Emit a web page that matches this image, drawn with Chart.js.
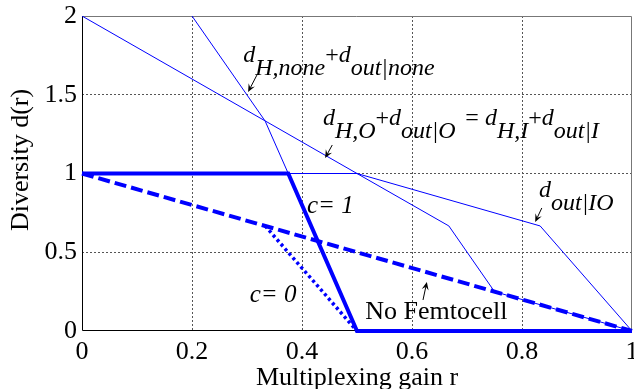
<!DOCTYPE html>
<html>
<head>
<meta charset="utf-8">
<title>Diversity vs multiplexing gain</title>
<script src="https://cdn.jsdelivr.net/npm/chart.js@4.4.1/dist/chart.umd.min.js"></script>
<style>
    html, body { margin: 0; padding: 0; background: #ffffff; }
    #wrap { width: 634px; height: 389px; }
</style>
</head>
<body>
<div id="wrap"><canvas id="dmt" width="634" height="389"></canvas></div>
<script>
// Tick values
const xTicks = [0, 0.2, 0.4, 0.6, 0.8, 1];
const yTicks = [0, 0.5, 1, 1.5, 2];

// thin: d_H,none + d_out|none
const noneR = [0, 0.5, 0.667, 0.75, 1];
const noneD = [2, 1, 0.667, 0.25, 0];

// thin: d_H,O + d_out|O = d_H,I + d_out|I, then d_out|IO
const ioR = [0.2, 0.333, 0.375, 0.5, 0.833, 1];
const ioD = [2, 1.333, 1, 1, 0.667, 0];

// thick solid, c = 1
const c1R = [0, 0.375, 0.5, 1];
const c1D = [1, 1, 0, 0];

// thick dotted, c = 0
const c0R = [0.333, 0.5];
const c0D = [0.667, 0];

// thick dashed, no femtocell
const noFemtoR = [0, 1];
const noFemtoD = [1, 0];

const SERIF = '"Liberation Serif", "Times New Roman", serif';
const BLUE = '#0000ff';

// text labels in data units (r, d) -> left end of the baseline
const notes = [
    { r: 0.293, d: 1.708, size: 24, parts: [{ t: 'd' }, { t: 'H,none', sub: true }, { t: '+', up: true }, { t: 'd' }, { t: 'out|none', sub: true }] },
    { r: 0.438, d: 1.308, size: 24, parts: [{ t: 'd' }, { t: 'H,O', sub: true }, { t: '+', up: true }, { t: 'd' }, { t: 'out|O', sub: true }] },
    { r: 0.697, d: 1.308, size: 24, parts: [{ t: '= ', up: true }, { t: 'd' }, { t: 'H,I', sub: true }, { t: '+', up: true }, { t: 'd' }, { t: 'out|I', sub: true }] },
    { r: 0.831, d: 0.851, size: 24, parts: [{ t: 'd' }, { t: 'out|IO', sub: true }] },
    { r: 0.409, d: 0.749, size: 25, parts: [{ t: 'c= 1' }] },
    { r: 0.305, d: 0.184, size: 25, parts: [{ t: 'c= 0' }] },
    { r: 0.515, d: 0.076, size: 26, parts: [{ t: 'No Femtocell', up: true }] }
];

// arrows: from (r1, d1) to tip (r2, d2)
const arrows = [
    [0.318, 1.625, 0.302, 1.517],
    [0.455, 1.181, 0.442, 1.098],
    [0.836, 0.781, 0.824, 0.692],
    [0.620, 0.197, 0.627, 0.311]
];

function toPoints(rs, ds) {
    return rs.map((r, i) => ({ x: r, y: ds[i] }));
}

function drawRich(ctx, x, y, parts, size) {
    parts.forEach(p => {
        ctx.font = (p.up ? '' : 'italic ') + size + 'px ' + SERIF;
        ctx.fillText(p.t, x, p.sub ? y + 13 : y);
        x += ctx.measureText(p.t).width;
    });
}

function drawArrow(ctx, x1, y1, x2, y2) {
    const a = Math.atan2(y2 - y1, x2 - x1);
    const len = 8, half = 3.5;
    ctx.beginPath();
    ctx.moveTo(x1, y1);
    ctx.lineTo(x2 - Math.cos(a) * len * 0.6, y2 - Math.sin(a) * len * 0.6);
    ctx.stroke();
    ctx.beginPath();
    ctx.moveTo(x2, y2);
    ctx.lineTo(x2 - Math.cos(a) * len - Math.sin(a) * half, y2 - Math.sin(a) * len + Math.cos(a) * half);
    ctx.lineTo(x2 - Math.cos(a) * len * 0.6, y2 - Math.sin(a) * len * 0.6);
    ctx.lineTo(x2 - Math.cos(a) * len + Math.sin(a) * half, y2 - Math.sin(a) * len - Math.cos(a) * half);
    ctx.closePath();
    ctx.fill();
}

// frame under the curves, then titles and annotations on top
const decorPlugin = {
    id: 'decor',
    beforeDatasetsDraw(chart) {
        const { ctx, chartArea: a } = chart;
        ctx.save();
        ctx.lineWidth = 1;
        ctx.strokeStyle = '#777777';
        ctx.beginPath();
        ctx.moveTo(a.left, a.top + 0.5);
        ctx.lineTo(a.right - 0.5, a.top + 0.5);
        ctx.lineTo(a.right - 0.5, a.bottom);
        ctx.stroke();
        ctx.strokeStyle = '#000000';
        ctx.beginPath();
        ctx.moveTo(a.left + 0.5, a.top);
        ctx.lineTo(a.left + 0.5, a.bottom - 0.5);
        ctx.lineTo(a.right, a.bottom - 0.5);
        ctx.stroke();
        ctx.restore();
    },
    afterDatasetsDraw(chart) {
        const { ctx, chartArea: a, scales: { x, y } } = chart;
        ctx.save();
        ctx.fillStyle = '#000000';
        ctx.strokeStyle = '#000000';
        ctx.textBaseline = 'alphabetic';
        ctx.textAlign = 'left';
        notes.forEach(n => drawRich(ctx, x.getPixelForValue(n.r), y.getPixelForValue(n.d), n.parts, n.size));

        ctx.lineWidth = 1;
        arrows.forEach(([r1, d1, r2, d2]) => {
            drawArrow(ctx, x.getPixelForValue(r1), y.getPixelForValue(d1),
                      x.getPixelForValue(r2), y.getPixelForValue(d2));
        });

        // axis titles
        ctx.font = '26px ' + SERIF;
        ctx.textAlign = 'center';
        ctx.fillText('Multiplexing gain r', (a.left + a.right) / 2, 385);
        ctx.translate(21, 160);
        ctx.rotate(-Math.PI / 2);
        ctx.textBaseline = 'middle';
        ctx.fillText('Diversity d(r)', 0, 0);
        ctx.restore();
    }
};

const gridColor = c => (c.tick && (c.tick.value === 0 || c.tick.value === c.scale.max)) ? 'rgba(0,0,0,0)' : '#555555';
const tickText = v => String(Math.round(v * 10) / 10);

const thin = { borderColor: BLUE, borderWidth: 1, pointRadius: 0, fill: false, tension: 0 };
const thick = { borderColor: BLUE, borderWidth: 4, pointRadius: 0, fill: false, tension: 0, borderCapStyle: 'butt', clip: false };

new Chart(document.getElementById('dmt').getContext('2d'), {
    type: 'line',
    data: {
        datasets: [
            { ...thin, label: 'd_H,none + d_out|none', data: toPoints(noneR, noneD) },
            { ...thin, label: 'd_H,O + d_out|O', data: toPoints(ioR, ioD) },
            { ...thick, label: 'No Femtocell', data: toPoints(noFemtoR, noFemtoD), borderDash: [12, 5] },
            { ...thick, label: 'c = 0', data: toPoints(c0R, c0D), borderWidth: 3.5, borderDash: [3, 3] },
            { ...thick, label: 'c = 1', data: toPoints(c1R, c1D) }
        ]
    },
    options: {
        responsive: false,
        animation: false,
        events: [],
        layout: { padding: { top: 16, right: 2, left: 0, bottom: 0 } },
        plugins: { legend: { display: false }, tooltip: { enabled: false } },
        scales: {
            x: {
                type: 'linear',
                min: 0,
                max: 1,
                afterBuildTicks: s => { s.ticks = xTicks.map(v => ({ value: v })); },
                afterFit: s => { s.height = 58; s.paddingLeft = 0; s.paddingRight = 0; },
                ticks: { font: { family: SERIF, size: 26 }, color: '#000000', padding: 6, maxRotation: 0, autoSkip: false, callback: tickText },
                grid: { color: gridColor, lineWidth: 1, drawTicks: false },
                border: { display: false, dash: [2, 2] }
            },
            y: {
                type: 'linear',
                min: 0,
                max: 2,
                afterBuildTicks: s => { s.ticks = yTicks.map(v => ({ value: v })); },
                afterFit: s => { s.width = 82; s.paddingTop = 0; s.paddingBottom = 0; },
                ticks: { font: { family: SERIF, size: 26 }, color: '#000000', padding: 5, callback: tickText },
                grid: { color: gridColor, lineWidth: 1, drawTicks: false },
                border: { display: false, dash: [2, 2] }
            }
        }
    },
    plugins: [decorPlugin]
});
</script>
</body>
</html>
